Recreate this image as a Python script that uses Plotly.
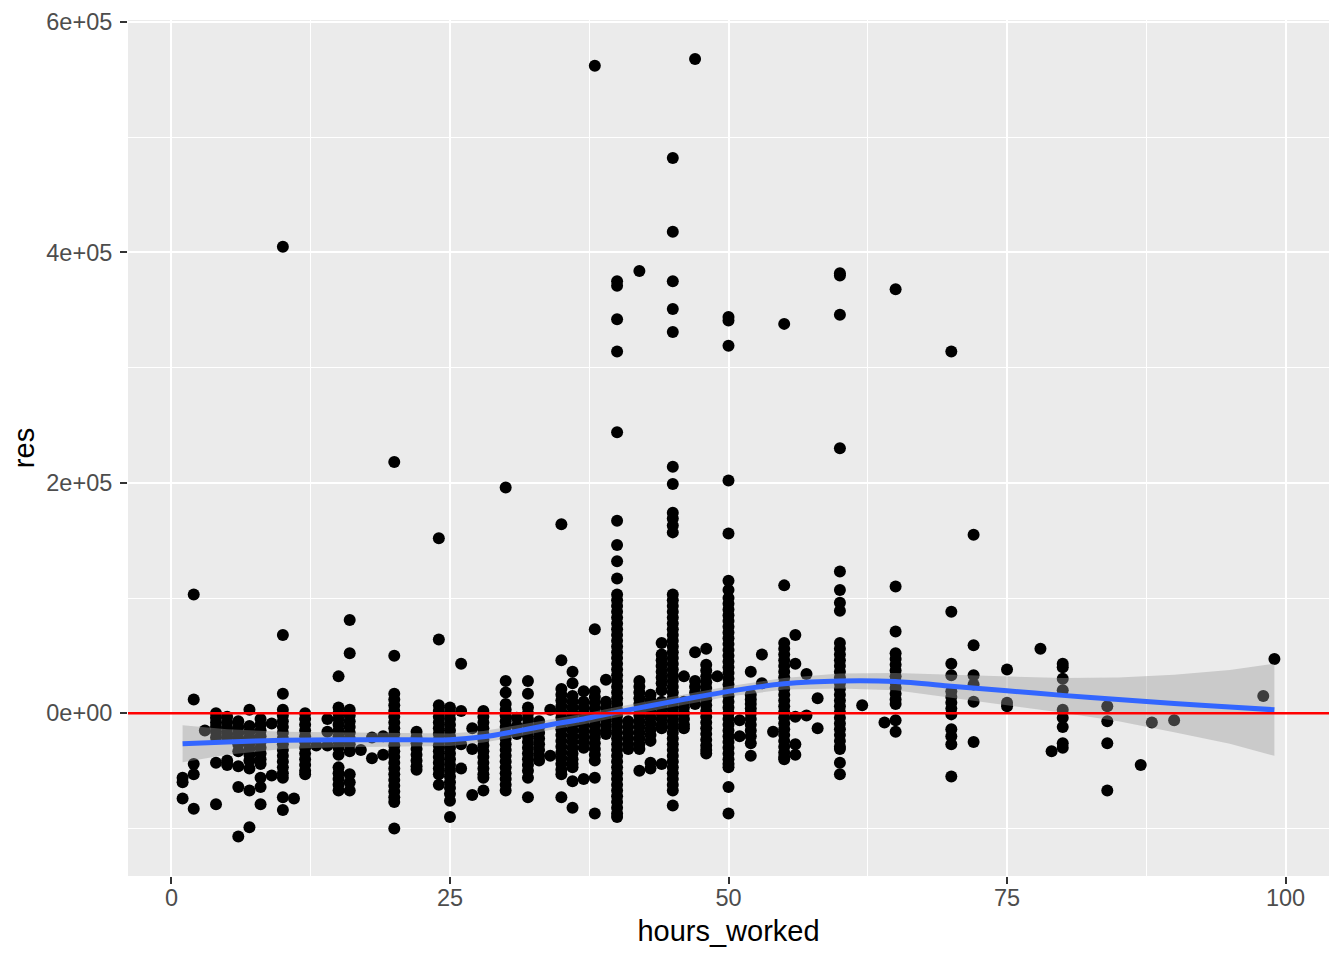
import plotly.graph_objects as go

# ---- data (res values in thousands) ----
hours = [1, 2, 3, 4, 5, 6, 7, 8, 9, 10, 11, 12, 13, 14, 15, 16, 17, 18, 19, 20,
         22, 24, 25, 26, 27, 28, 30, 31, 32, 33, 34, 35, 36, 37, 38, 39, 40,
         41, 42, 43, 44, 45, 46, 47, 48, 49, 50, 51, 52, 53, 54, 55, 56, 57,
         58, 60, 62, 64, 65, 70, 72, 75, 78, 79, 80, 84, 87, 88, 90, 98, 99]

res_k = [
    [-56, -60, -74],
    [103, 12, -44, -53, -83],
    [-15],
    [0, -4, -8, -12, -16, -21, -43, -79],
    [-3, -8, -13, -18, -21, -41, -45],
    [-7, -12, -17, -22, -27, -33, -46, -64, -107],
    [3, -11, -16, -21, -26, -31, -36, -41, -48, -67, -99],
    [-5, -10, -15, -20, -25, -30, -35, -40, -44, -56, -64, -79],
    [-9, -54],
    [405, 68, 17, 3, -2, -7, -12, -17, -22, -27, -32, -37, -42, -47, -52, -56, -73, -84],
    [-74],
    [0, -5, -10, -15, -20, -25, -30, -35, -40, -45, -50, -53],
    [-28],
    [-5, -16, -28],
    [32, 5, 0, -5, -10, -15, -20, -25, -30, -36, -47, -52, -57, -62, -67],
    [81, 52, 3, -2, -7, -12, -17, -22, -27, -33, -53, -60, -67],
    [-32],
    [-21, -39],
    [-20, -36],
    [218, 50, 17, 12, 7, 2, -3, -8, -13, -18, -23, -28, -33, -38, -43, -48, -53, -58, -63, -68, -73, -77, -100],
    [-16, -21, -26, -31, -36, -41, -46, -49],
    [152, 64, 7, 2, -3, -8, -13, -18, -23, -28, -33, -38, -43, -48, -53, -62],
    [5, 0, -5, -10, -15, -20, -25, -30, -35, -40, -45, -50, -55, -60, -65, -70, -76, -90],
    [43, 2, -27, -48],
    [-13, -31, -71],
    [2, -3, -8, -13, -18, -23, -28, -33, -38, -43, -48, -53, -56, -67],
    [196, 28, 18, 8, 3, -2, -7, -12, -17, -22, -27, -32, -37, -42, -47, -52, -57, -62, -67],
    [-4, -11, -18],
    [28, 17, 5, 0, -5, -10, -15, -20, -25, -30, -35, -40, -45, -50, -56, -73],
    [-7, -12, -17, -22, -27, -32, -37, -41],
    [3, -37],
    [164, 46, 21, 16, 11, 6, 1, -4, -9, -14, -19, -24, -29, -34, -39, -44, -49, -53, -73],
    [36, 26, 15, 10, 5, 0, -5, -10, -15, -20, -25, -30, -35, -40, -44, -47, -59, -82],
    [19, 10, 5, 0, -5, -10, -15, -20, -25, -30, -57],
    [562, 73, 19, 14, 9, 4, -1, -6, -11, -16, -21, -26, -31, -36, -41, -56, -87],
    [29, 10, 5, 0, -5, -10, -15, -18],
    [375, 371, 342, 314, 244, 167, 146, 132, 117, 103, 98, 93, 88, 83, 78, 73, 68, 63,
     58, 53, 48, 43, 38, 33, 28, 23, 18, 13, 8, 3, -2, -7, -12, -17, -22, -27, -32,
     -37, -42, -47, -52, -57, -62, -67, -72, -77, -82, -87, -90],
    [-7, -12, -17, -22, -27, -31],
    [384, 28, 23, 18, 13, 8, 3, -2, -7, -12, -17, -22, -27, -31, -50],
    [16, 11, 6, 1, -4, -9, -14, -19, -24, -43, -48],
    [61, 51, 46, 41, 36, 31, 26, 20, 10, 5, 0, -5, -10, -13, -44],
    [482, 418, 375, 351, 331, 214, 199, 174, 169, 163, 157, 103, 98, 93, 88, 83, 78, 73,
     68, 63, 58, 53, 48, 43, 38, 33, 28, 23, 18, 13, 8, 3, -2, -7, -12, -17, -22, -27,
     -32, -37, -42, -47, -52, -57, -62, -67, -80],
    [32, 10, 5, 0, -5, -10, -13],
    [568, 53, 28, 23, 18, 13, 8],
    [56, 42, 37, 32, 27, 22, 17, 12, 7, 2, -3, -8, -13, -18, -23, -28, -32, -35],
    [32],
    [344, 341, 319, 202, 156, 115, 107, 100, 95, 90, 85, 80, 75, 70, 65, 60, 55, 50, 45,
     40, 35, 30, 25, 20, 15, 10, 5, 0, -5, -10, -15, -20, -25, -30, -35, -40, -44, -47,
     -64, -87],
    [-6, -20],
    [36, 16, 12, 8, 4, 0, -5, -10, -15, -20, -26, -37],
    [51, 26],
    [-16],
    [338, 111, 61, 56, 51, 46, 41, 36, 31, 26, 21, 16, 11, 6, 1, -4, -9, -14, -19, -24,
     -29, -34, -38, -40],
    [68, 43, -3, -27, -36],
    [34, -2],
    [13, -13],
    [382, 380, 346, 230, 123, 107, 96, 89, 61, 56, 51, 46, 41, 36, 31, 26, 21, 16, 11, 6,
     1, -4, -9, -14, -19, -24, -29, -31, -43, -53],
    [7],
    [-8],
    [368, 110, 71, 52, 47, 42, 37, 32, 27, 22, 17, 12, 8, -6, -16],
    [314, 88, 43, 33, 19, 14, 9, 4, -1, -14, -20, -27, -55],
    [155, 59, 33, 25, 10, -25],
    [38, 9, 6],
    [56],
    [-33],
    [43, 40, 30, 20, 3, -4, -12, -26, -30],
    [6, -7, -26, -67],
    [-45],
    [-8],
    [-6],
    [15],
    [47],
]

# loess smooth (thousands)
smooth_x = [1, 5, 10, 15, 20, 25, 28, 31, 34, 37, 40, 43, 46, 50, 55, 60, 65, 70, 75,
            80, 85, 90, 95, 99]
smooth_y = [-26.5, -25, -23.5, -23, -23, -23, -20.5, -15.5, -10, -5, 1, 6.5, 12, 19,
            25.5, 28, 27.5, 23.5, 19.5, 15.5, 12, 8.5, 5.5, 3]
smooth_lo = [-42.5, -36, -31, -29.5, -29, -28.5, -25.5, -20.5, -14.5, -9.5, -3.5, 2,
             7.5, 14.5, 20.5, 21.5, 20, 13.5, 7, 0.5, -7, -16.5, -26.5, -37]
smooth_hi = [-10.5, -14, -16, -16.5, -17, -17.5, -15.5, -10.5, -5.5, -0.5, 5.5, 11,
             16.5, 23.5, 30.5, 34.5, 35, 33.5, 32, 30.5, 31, 33.5, 37.5, 43]

x_ticks = [0, 25, 50, 75, 100]
x_ticklabels = ["0", "25", "50", "75", "100"]
y_ticks = [0, 200000, 400000, 600000]
y_ticklabels = ["0e+00", "2e+05", "4e+05", "6e+05"]

# ---- build ----
K = 1000
px_x, px_y = [], []
for h, vals in zip(hours, res_k):
    for v in vals:
        px_x.append(h)
        px_y.append(v * K)

fig = go.Figure()
fig.add_trace(go.Scatter(
    x=px_x, y=px_y, mode="markers",
    marker=dict(color="black", size=12, line=dict(width=0)),
    showlegend=False, hoverinfo="skip"))

band_x = smooth_x + smooth_x[::-1]
band_y = [v * K for v in smooth_hi] + [v * K for v in smooth_lo[::-1]]
fig.add_trace(go.Scatter(
    x=band_x, y=band_y, mode="lines", fill="toself",
    fillcolor="rgba(153,153,153,0.4)", line=dict(width=0),
    showlegend=False, hoverinfo="skip"))
fig.add_trace(go.Scatter(
    x=smooth_x, y=[v * K for v in smooth_y], mode="lines",
    line=dict(color="#3366FF", width=5, shape="spline", smoothing=0.8),
    showlegend=False, hoverinfo="skip"))

fig.add_shape(type="line", xref="paper", x0=0, x1=1, yref="y", y0=0, y1=0,
              line=dict(color="red", width=2.5), layer="above")

tickfont = dict(family="Liberation Sans, Arial, sans-serif", size=23.5, color="#4D4D4D")
titlefont = dict(family="Liberation Sans, Arial, sans-serif", size=29, color="black")

# page body has an 8px margin, so the figure is sized/margined to compensate
fig.update_layout(
    width=1336, height=952,
    paper_bgcolor="white", plot_bgcolor="#EBEBEB",
    margin=dict(l=120, r=15, t=12, b=84, autoexpand=False),
    showlegend=False,
    xaxis=dict(
        range=[-3.9, 103.9], tickmode="array", tickvals=x_ticks, ticktext=x_ticklabels,
        showgrid=True, gridcolor="white", gridwidth=2.2, zeroline=False,
        ticks="outside", ticklen=7, tickwidth=2, tickcolor="#333333",
        tickfont=tickfont, ticklabelstandoff=-6, automargin=False,
        ticklabeloverflow="allow",
        minor=dict(tickvals=[12.5, 37.5, 62.5, 87.5], showgrid=True,
                   gridcolor="white", gridwidth=1.1, ticks=""),
        title=dict(text="hours_worked", font=titlefont, standoff=10),
        showline=False,
    ),
    yaxis=dict(
        range=[-141300, 601800], tickmode="array", tickvals=y_ticks, ticktext=y_ticklabels,
        showgrid=True, gridcolor="white", gridwidth=2.2, zeroline=False,
        ticks="outside", ticklen=7, tickwidth=2, tickcolor="#333333",
        tickfont=tickfont, ticklabelstandoff=3, automargin=False,
        ticklabeloverflow="allow",
        minor=dict(tickvals=[-100000, 100000, 300000, 500000], showgrid=True,
                   gridcolor="white", gridwidth=1.1, ticks=""),
        title=dict(text="res", font=titlefont, standoff=3),
        showline=False,
    ),
)

fig.write_html("out.html")
